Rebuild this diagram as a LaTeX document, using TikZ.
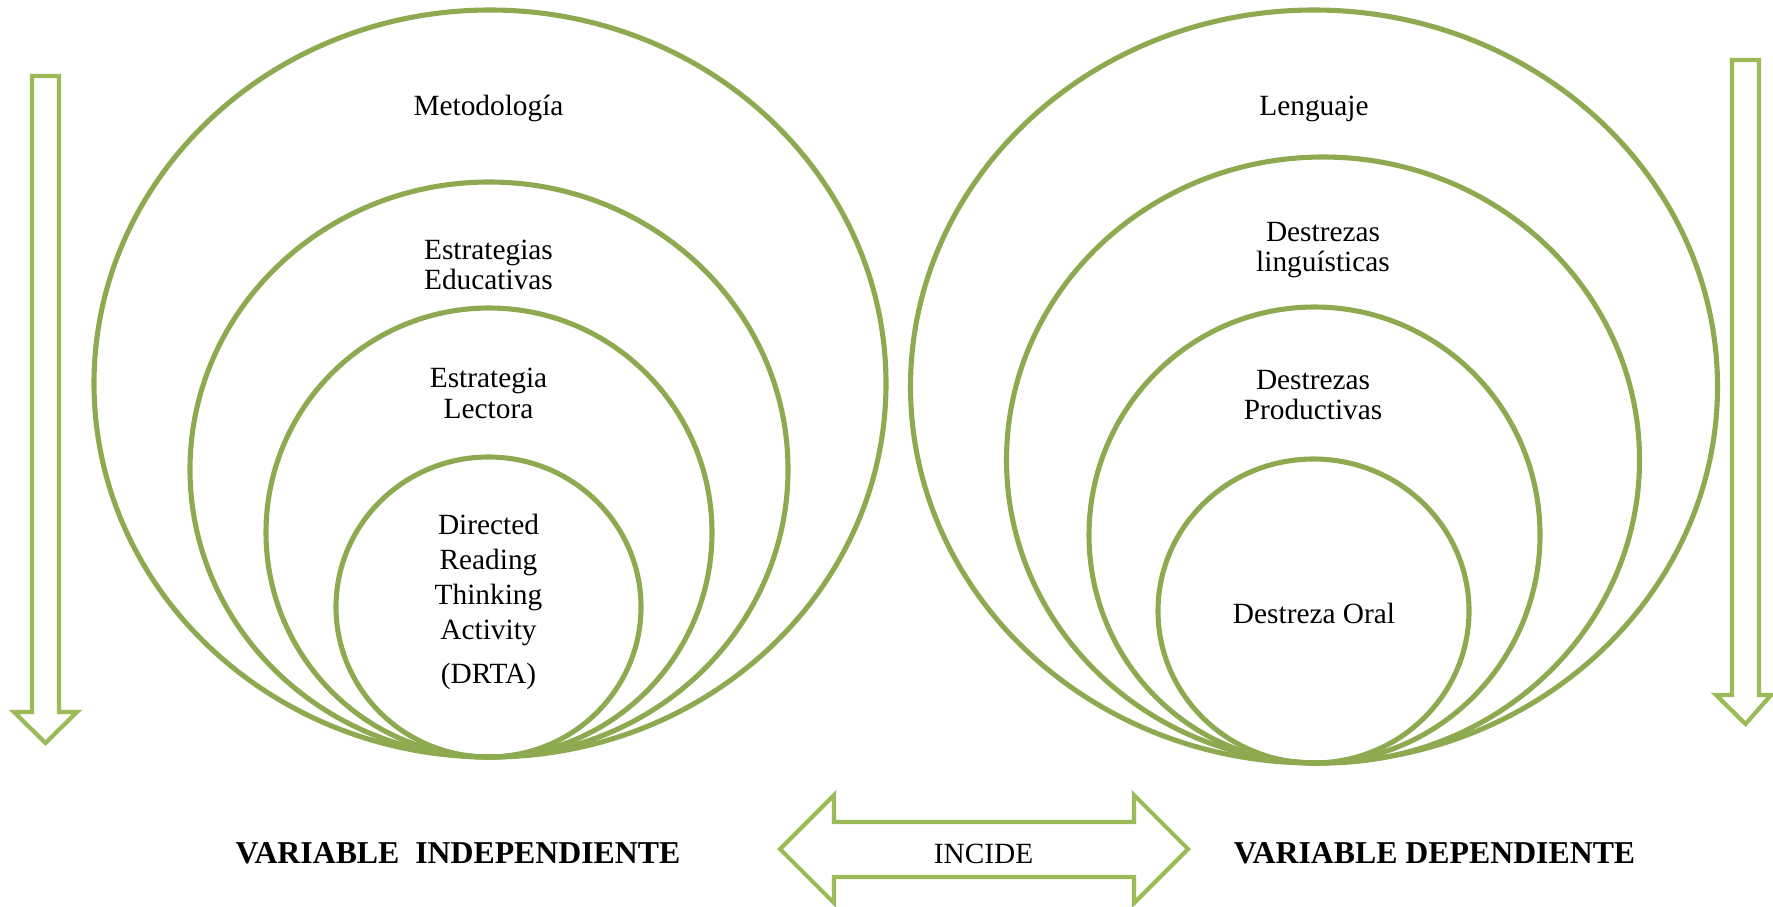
\documentclass[tikz,border=0pt]{standalone}
\usepackage{fontspec}
\setmainfont{Liberation Serif}
\usepackage{tikz}
\usetikzlibrary{calc,positioning}
\definecolor{ringgreen}{RGB}{141,170,80}
\definecolor{arrgreen}{RGB}{155,187,89}

\begin{document}
\begin{tikzpicture}[x=0.02cm, y=-0.02cm]
\tikzstyle{ring}=[draw=ringgreen, line width=2.9pt]
\tikzstyle{blk}=[draw=arrgreen, line width=2.4pt]
\tikzstyle{lbl}=[align=center, inner sep=0pt, font=\fontsize{16.7}{17.3}\selectfont]
\tikzstyle{var}=[inner sep=0pt, font=\fontsize{18.1}{20}\selectfont\bfseries]
\useasboundingbox (0,0) rectangle (1773,906);
% left group
\foreach \cx/\cy/\rx/\ry in {490/383.5/396/373.5, 489/469.5/299/287.5, 489/532.5/223/224.5, 488.5/607/152.5/150}{\draw[ring] (\cx,\cy) ellipse ({\rx} and {\ry});}
% right group
\foreach \cx/\cy/\rx/\ry in {1314/386.5/403.5/376.5, 1323/460/316.5/303, 1314.5/535/225.5/228, 1313.5/611/155.5/152}{\draw[ring] (\cx,\cy) ellipse ({\rx} and {\ry});}
\node[lbl] (met) at (488.5,108) {Metodología};
\node[lbl] (estEdu) at (488.5,265) {Estrategias\\Educativas};
\node[lbl] (estLec) at (488.5,393.5) {Estrategia\\Lectora};
\node[lbl, font=\fontsize{16.7}{19.9}\selectfont] (drta) at (488.5,602) {Directed\\Reading\\Thinking\\Activity\\[5pt](DRTA)};
\node[lbl] (len) at (1314,109) {Lenguaje};
\node[lbl] (desLin) at (1323,250) {Destrezas\\linguísticas};
\node[lbl] (desPro) at (1313,395) {Destrezas\\Productivas};
\node[lbl] (desOral) at (1314,613) {Destreza Oral};
% block arrows
\draw[blk] (32,76) -- (59,76) -- (59,712) -- (77,712) -- (45.5,743) -- (14,712) -- (32,712) -- cycle;
\draw[blk] (1732,60) -- (1759,60) -- (1759,695) -- (1771,695) -- (1745.5,724) -- (1716,695) -- (1732,695) -- cycle;
\draw[blk] (780,849) -- (834,795) -- (834,822) -- (1134,822) -- (1134,795) -- (1188,849) -- (1134,903) -- (1134,877) -- (834,877) -- (834,903) -- cycle;
\node[lbl, anchor=base] (inc) at (983.5,863) {INCIDE};
\node[var, anchor=base] (vi) at (458,863) {VARIABLE\ \ INDEPENDIENTE};
\node[var, anchor=base] (vd) at (1434.5,863) {VARIABLE DEPENDIENTE};
\end{tikzpicture}
\end{document}
